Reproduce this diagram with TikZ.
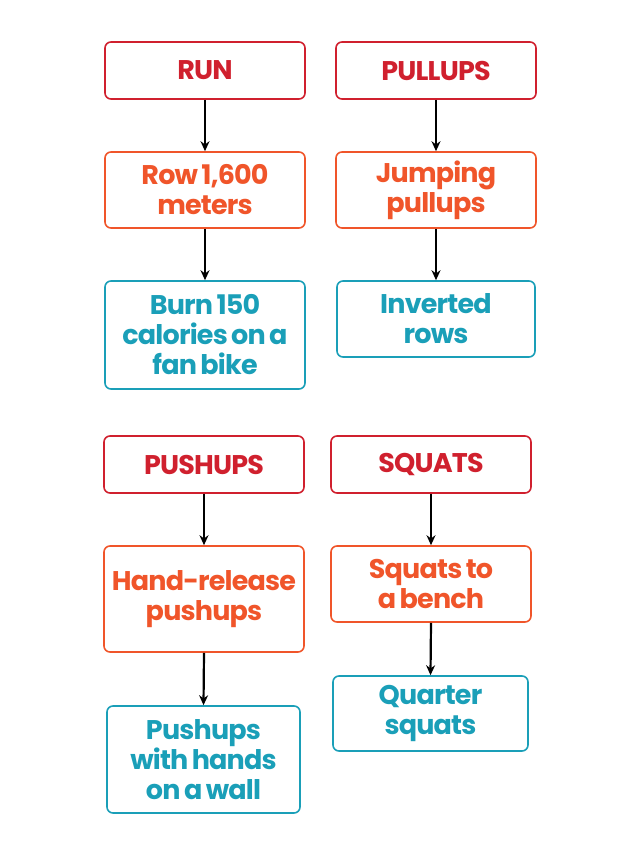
\documentclass[tikz,border=0pt]{standalone}
\usepackage{fontspec}
\setmainfont[LetterSpace=-3,WordSpace=0.7]{Poppins}
\usetikzlibrary{arrows.meta}
\definecolor{cred}{HTML}{D0202E}
\definecolor{corg}{HTML}{F0552A}
\definecolor{cteal}{HTML}{1A9FB8}
\tikzset{
 bx/.style={draw, rounded corners=6pt, line width=1.6pt, align=center, inner sep=0pt, font=\fontsize{27}{30}\selectfont\bfseries},
 rbox/.style={bx, draw=cred, text=cred},
 obox/.style={bx, draw=corg, text=corg},
 tbox/.style={bx, draw=cteal, text=cteal},
 arr/.style={-{Stealth[length=10pt,width=9pt]}, line width=2.2pt, black}
}
\begin{document}
\begin{tikzpicture}[x=1pt,y=-1pt]
\useasboundingbox (0,0) rectangle (640,855);
\node[rbox, minimum width=200pt, minimum height=57pt] (run) at (205,70.5) {RUN};
\node[obox, minimum width=200pt, minimum height=76pt] (row) at (205,190) {Row 1,600\\meters};
\node[tbox, minimum width=200pt, minimum height=108pt] (burn) at (205,335) {Burn 150\\calories on a\\fan bike};
\node[rbox, minimum width=200pt, minimum height=57pt] (pull) at (436,70.5) {PULLUPS};
\node[obox, minimum width=200pt, minimum height=76pt] (jump) at (436,190) {Jumping\\pullups};
\node[tbox, minimum width=198pt, minimum height=76pt] (inv) at (436,319) {Inverted\\rows};
\node[rbox, minimum width=200pt, minimum height=57pt] (push) at (204,464.5) {PUSHUPS};
\node[obox, minimum width=200pt, minimum height=106pt] (hand) at (204,599) {Hand-release\\pushups};
\node[tbox, minimum width=193pt, minimum height=107pt] (wall) at (203.5,759.5) {Pushups\\with hands\\on a wall};
\node[rbox, minimum width=200pt, minimum height=57pt] (sq) at (431,464.5) {SQUATS};
\node[obox, minimum width=200pt, minimum height=76pt] (bench) at (431,584) {Squats to\\a bench};
\node[tbox, minimum width=195pt, minimum height=75pt] (quar) at (430.5,713.5) {Quarter\\squats};
\foreach \a/\b in {run/row,row/burn,pull/jump,jump/inv,push/hand,hand/wall,sq/bench,bench/quar}
  \draw[arr] (\a.south) -- (\b.north);
\end{tikzpicture}
\end{document}
